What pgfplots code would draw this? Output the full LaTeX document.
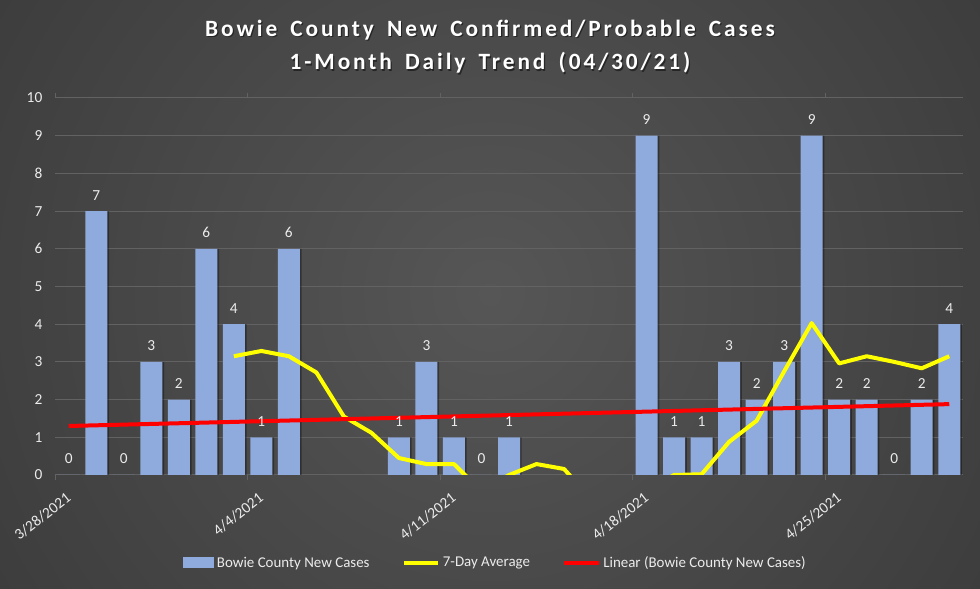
\documentclass[border=0pt]{standalone}
\usepackage{fontspec}
\setmainfont{Carlito}
\newfontfamily\titlefont[LetterSpace=12.5,WordSpace=1.6]{Carlito}
\usepackage{pgfplots}
\pgfplotsset{compat=1.18}
\usepackage{pgfplotstable}

\definecolor{bgA}{RGB}{86,86,86}
\definecolor{bgB}{RGB}{74,74,74}
\definecolor{bgC}{RGB}{60,60,60}
\definecolor{bgD}{RGB}{46,46,46}
\definecolor{bgE}{RGB}{40,40,40}
\definecolor{barblue}{RGB}{143,170,220}
\definecolor{gridc}{RGB}{98,98,98}
\definecolor{txt}{RGB}{236,236,236}
\definecolor{avgyellow}{RGB}{255,255,0}
\definecolor{trendred}{RGB}{255,0,0}

\pgfdeclareradialshading{bgshade}{\pgfpoint{0bp}{0bp}}{color(0bp)=(bgA); color(12bp)=(bgB); color(26bp)=(bgC); color(43bp)=(bgD); color(50bp)=(bgE)}

\pgfplotstableread{
x y
0 0
1 7
2 0
3 3
4 2
5 6
6 4
7 1
8 6
9 nan
10 nan
11 nan
12 1
13 3
14 1
15 0
16 1
17 nan
18 nan
19 nan
20 nan
21 9
22 1
23 1
24 3
25 2
26 3
27 9
28 2
29 2
30 0
31 2
32 4
}\bars

\pgfplotstableread{
x y
6 3.15
7 3.29
8 3.15
9 2.72
10 1.55
11 1.12
12 0.45
13 0.29
14 0.29
15 -0.43
16 0.00
17 0.29
18 0.16
19 -0.65
20 -0.90
21 -0.40
22 0.00
23 0.02
24 0.88
25 1.44
26 2.75
27 4.03
28 2.96
29 3.15
30 3.00
31 2.83
32 3.15
}\avg

\begin{document}
\begin{tikzpicture}
\begin{scope}
\clip (0,0) rectangle (735pt,441pt);
\shade[shading=bgshade] (367.5pt,220.5pt) circle (430pt);
\end{scope}

\node[anchor=base, text=black!85, font=\titlefont\fontsize{17.5}{21}\bfseries\selectfont] at (368.4pt,412.6pt) {Bowie County New Confirmed/Probable Cases};
\node[anchor=base, text=white, font=\titlefont\fontsize{17.5}{21}\bfseries\selectfont] at (367.5pt,413.5pt) {Bowie County New Confirmed/Probable Cases};
\node[anchor=base, text=black!85, font=\titlefont\fontsize{17.5}{21}\bfseries\selectfont] at (368.4pt,387.6pt) {1-Month Daily Trend (04/30/21)};
\node[anchor=base, text=white, font=\titlefont\fontsize{17.5}{21}\bfseries\selectfont] at (367.5pt,388.5pt) {1-Month Daily Trend (04/30/21)};

\begin{axis}[
  at={(41.25pt,84.75pt)}, anchor=south west,
  scale only axis, width=681pt, height=282.75pt,
  xmin=-0.5, xmax=32.5, ymin=0, ymax=10,
  ytick={0,1,...,10},
  xtick={0,7,14,21,28},
  xticklabels={3/28/2021,4/4/2021,4/11/2021,4/18/2021,4/25/2021},
  axis line style={draw=none},
  ymajorgrids, grid style={gridc, line width=0.75pt},
  major tick length=0pt,
  /pgf/number format/assume math mode=true,
  tick label style={font=\fontsize{11.5}{13}\selectfont, text=txt},
  yticklabel style={xshift=-6pt},
  xticklabel style={inner sep=0pt, xshift=0pt, yshift=-15.75pt, rotate=38, anchor=east},
  extra x ticks={-0.5,6.5,13.5,20.5,27.5},
  extra x tick labels={},
  extra x tick style={major tick length=4pt, tick align=outside, tick style={gridc, line width=0.75pt}},
  legend columns=3,
  legend style={at={(0.4855,-0.2334)}, anchor=center, draw=none, fill=none,
    text=txt, font=\fontsize{11.2}{13}\selectfont,
    /tikz/every even column/.append style={column sep=22pt}},
  clip=true,
]
\addplot[ybar, bar width=16.5pt, bar shift=1.3pt, fill=black, fill opacity=0.35, draw=none, forget plot]
  table[x=x,y=y] {\bars};
\addplot[ybar, bar width=16.5pt, bar shift=0pt, fill=barblue, draw=none,
  nodes near coords,
  every node near coord/.append style={font=\fontsize{11.5}{13}\selectfont, text=txt, anchor=center, yshift=12pt},
  legend image code/.code={\fill[barblue] (0pt,-4pt) rectangle (23.25pt,4.25pt);}
  ] table[x=x,y=y] {\bars};
\addlegendentry{Bowie County New Cases}
\addplot[avgyellow, line width=3pt, line join=round, mark=none,
  legend image code/.code={\draw[avgyellow, line width=3pt] (0pt,0pt) -- (26pt,0pt);}
  ] table[x=x,y=y] {\avg};
\addlegendentry{7-Day Average}
\addplot[trendred, line width=3pt, mark=none,
  legend image code/.code={\draw[trendred, line width=3pt] (0pt,0pt) -- (26pt,0pt);}
  ] coordinates {(0,1.30) (32,1.88)};
\addlegendentry{Linear (Bowie County New Cases)}
\end{axis}
\pgfresetboundingbox
\path (0,0) rectangle (735pt,441pt);
\end{tikzpicture}
\end{document}
